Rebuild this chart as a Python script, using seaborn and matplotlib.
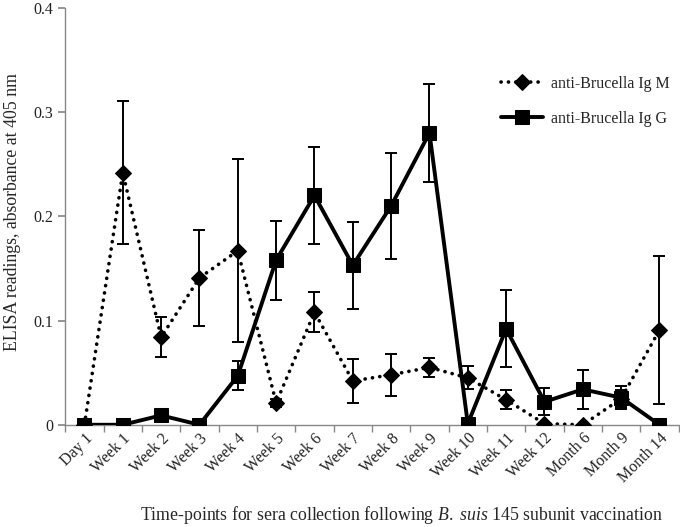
import numpy as np
import pandas as pd
import matplotlib
matplotlib.use("Agg")
import matplotlib.pyplot as plt
import seaborn as sns

# data
time_points = ['Day 1', 'Week 1', 'Week 2', 'Week 3', 'Week 4', 'Week 5', 'Week 6',
               'Week 7', 'Week 8', 'Week 9', 'Week 10', 'Week 11', 'Week 12',
               'Month 6', 'Month 9', 'Month 14']
igm_mean = [0.0, 0.242, 0.084, 0.141, 0.167, 0.021, 0.108, 0.042, 0.048, 0.055,
            0.045, 0.024, 0.001, 0.0, 0.025, 0.091]
igm_err = [0.0, 0.069, 0.019, 0.046, 0.088, 0.004, 0.019, 0.021, 0.020, 0.009,
           0.011, 0.009, 0.0, 0.0, 0.008, 0.071]
igg_mean = [0.0, 0.0, 0.009, 0.0, 0.047, 0.158, 0.220, 0.153, 0.210, 0.280,
            0.001, 0.092, 0.022, 0.034, 0.026, 0.0]
igg_err = [0.0, 0.0, 0.0, 0.0, 0.014, 0.038, 0.047, 0.042, 0.051, 0.047,
           0.0, 0.037, 0.013, 0.019, 0.011, 0.0]
y_ticks = [0, 0.1, 0.2, 0.3, 0.4]
y_labels = ['0', '0.1', '0.2', '0.3', '0.4']

sns.set_theme(style="white")
plt.rcParams['font.family'] = ['Liberation Serif', 'DejaVu Serif']
plt.rcParams['mathtext.fontset'] = 'custom'
plt.rcParams['mathtext.rm'] = 'Liberation Serif'
plt.rcParams['mathtext.it'] = 'Liberation Serif:italic'

pos = np.arange(len(time_points))
df = pd.DataFrame({'pos': pos, 'igm': igm_mean, 'igg': igg_mean})

fig = plt.figure(figsize=(6.8, 5.27), dpi=100)
ax = fig.add_axes([0.096, 0.194, 0.902, 0.791])

# error bars
ax.errorbar(pos, igm_mean, yerr=igm_err, fmt='none', ecolor='black',
            elinewidth=1.4, capsize=4, capthick=1.4, zorder=2)
ax.errorbar(pos, igg_mean, yerr=igg_err, fmt='none', ecolor='black',
            elinewidth=1.4, capsize=4, capthick=1.4, zorder=2)

# lines
sns.lineplot(data=df, x='pos', y='igm', ax=ax, color='black', lw=2.6,
             linestyle=(0, (0.05, 2.0)),
             marker='D', markersize=8, markeredgecolor='black',
             label='anti-Brucella Ig M', zorder=3)
sns.lineplot(data=df, x='pos', y='igg', ax=ax, color='black', lw=2.8,
             marker='s', markersize=10.5, markeredgecolor='black',
             label='anti-Brucella Ig G', zorder=4)
for ln in ax.get_lines():
    ln.set_dash_capstyle('round')

ax.set_xlim(-0.5, len(time_points) - 0.5)
ax.set_ylim(0, 0.4)
ax.set_yticks(y_ticks)
ax.set_yticklabels(y_labels, fontsize=11.5, color='#222222')
ax.set_xticks(pos)
ax.set_xticklabels(time_points, rotation=45, ha='right', rotation_mode='anchor',
                   fontsize=11.5, color='#222222')
ax.set_xticks(np.arange(-0.5, len(time_points)), minor=True)
ax.tick_params(axis='x', which='major', length=0, pad=4)
ax.tick_params(axis='x', which='minor', length=5, color='#888888', direction='out',
               bottom=True)
ax.tick_params(axis='y', length=5, color='#888888', direction='out', left=True)

for side in ['top', 'right']:
    ax.spines[side].set_visible(False)
for side in ['left', 'bottom']:
    ax.spines[side].set_color('#888888')
    ax.spines[side].set_linewidth(1.0)

ax.set_ylabel('ELISA readings, absorbance at 405 nm', fontsize=12.8)
ax.yaxis.set_label_coords(-0.072, 0.511)
ax.set_xlabel(r'Time-points for sera collection following $\it{B.\ suis}$ 145 subunit vaccination',
              fontsize=12.8)
ax.xaxis.set_label_coords(0.548, -0.19)

leg = ax.legend(loc='upper left', bbox_to_anchor=(0.698, 0.856), frameon=False,
                fontsize=11.5, handlelength=2.6, labelspacing=1.2, borderpad=0,
                handletextpad=0.5)
for ln in leg.get_lines():
    ln.set_dash_capstyle('round')

fig.savefig('out.png', dpi=100)
